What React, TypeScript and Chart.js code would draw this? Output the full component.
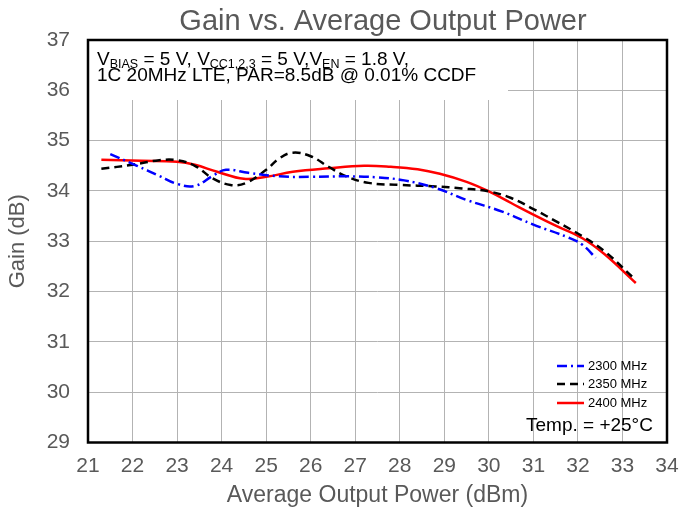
import React, { useEffect, useRef } from "react";
import { Chart, registerables } from "chart.js";

Chart.register(...registerables);

const FONT = "'Liberation Sans', Arial, sans-serif";

const TITLE = "Gain vs. Average Output Power";
const X_TITLE = "Average Output Power (dBm)";
const Y_TITLE = "Gain (dB)";
const X_MIN = 21;
const X_MAX = 34;
const Y_MIN = 29;
const Y_MAX = 37;

const SERIES_LABELS = ["2300 MHz", "2350 MHz", "2400 MHz"];
const SERIES_COLORS = ["#0000ff", "#000000", "#ff0000"];

const x2300 = [21.5, 22.1, 22.6, 23.0, 23.4, 23.8, 24.1, 24.6, 25.3, 26.0, 26.8, 27.5, 28.1, 28.8, 29.5, 30.3, 31.0, 31.8, 32.1, 32.4];
const y2300 = [34.73, 34.5, 34.3, 34.14, 34.1, 34.3, 34.42, 34.36, 34.29, 34.28, 34.29, 34.27, 34.21, 34.06, 33.82, 33.59, 33.33, 33.07, 32.93, 32.67];

const x2350 = [21.3, 22.0, 22.6, 23.0, 23.4, 23.8, 24.2, 24.55, 25.0, 25.3, 25.6, 26.0, 26.4, 26.8, 27.3, 28.0, 28.8, 29.4, 30.0, 30.5, 31.0, 31.5, 32.1, 32.6, 33.25];
const y2350 = [34.44, 34.52, 34.61, 34.61, 34.5, 34.25, 34.12, 34.16, 34.42, 34.65, 34.76, 34.69, 34.48, 34.29, 34.16, 34.12, 34.09, 34.05, 33.99, 33.86, 33.64, 33.4, 33.1, 32.8, 32.27];

const x2400 = [21.3, 22.2, 23.0, 23.4, 23.9, 24.5, 25.0, 25.6, 26.4, 27.2, 27.8, 28.4, 28.9, 29.5, 30.0, 30.5, 31.0, 31.5, 32.1, 32.6, 33.3];
const y2400 = [34.62, 34.6, 34.58, 34.52, 34.38, 34.24, 34.28, 34.38, 34.45, 34.5, 34.48, 34.43, 34.34, 34.18, 33.99, 33.76, 33.53, 33.31, 33.06, 32.74, 32.17];

const NOTE_LINE1: [string, boolean][] = [
  ["V", false], ["BIAS", true], [" = 5 V, V", false], ["CC1,2,3", true],
  [" = 5 V,V", false], ["EN", true], [" = 1.8 V,", false],
];
const NOTE_LINE2 = "1C 20MHz LTE, PAR=8.5dB @ 0.01% CCDF";
const TEMP_NOTE = "Temp. = +25°C";

const toPts = (xs: number[], ys: number[]) => xs.map((x, i) => ({ x, y: ys[i] }));

const decorPlugin = {
  id: "decor",
  beforeDatasetsDraw(chart: any) {
    const { ctx, chartArea } = chart;
    ctx.save();
    ctx.fillStyle = "#ffffff";
    ctx.fillRect(chartArea.left, chartArea.top, 508 - chartArea.left, 100 - chartArea.top);
    ctx.restore();
  },
  afterDraw(chart: any) {
    const { ctx, chartArea } = chart;
    ctx.save();
    // title
    ctx.fillStyle = "#595959";
    ctx.font = `29px ${FONT}`;
    ctx.textAlign = "center";
    ctx.textBaseline = "alphabetic";
    ctx.fillText(TITLE, 383, 30);
    // border
    ctx.strokeStyle = "#000000";
    ctx.lineWidth = 2.5;
    ctx.strokeRect(chartArea.left, chartArea.top, chartArea.right - chartArea.left, chartArea.bottom - chartArea.top);
    // note
    ctx.fillStyle = "#000000";
    ctx.textAlign = "left";
    let x = 97;
    for (const [t, sub] of NOTE_LINE1) {
      ctx.font = sub ? `12.5px ${FONT}` : `19px ${FONT}`;
      ctx.fillText(t, x, sub ? 67.5 : 65);
      x += ctx.measureText(t).width;
    }
    ctx.font = `19px ${FONT}`;
    ctx.fillText(NOTE_LINE2, 97, 81);
    // legend
    const rows = [366, 384, 403];
    chart.data.datasets.forEach((ds: any, i: number) => {
      ctx.save();
      ctx.strokeStyle = ds.borderColor;
      ctx.lineWidth = ds.borderWidth;
      ctx.setLineDash(ds.borderDash || []);
      ctx.beginPath();
      ctx.moveTo(557, rows[i]);
      ctx.lineTo(584, rows[i]);
      ctx.stroke();
      ctx.restore();
      ctx.fillStyle = "#000000";
      ctx.font = `13px ${FONT}`;
      ctx.textBaseline = "middle";
      ctx.fillText(ds.label, 588, rows[i]);
    });
    ctx.font = `19px ${FONT}`;
    ctx.textBaseline = "middle";
    ctx.fillText(TEMP_NOTE, 526, 426);
    ctx.restore();
  },
};

export default function App() {
  const ref = useRef<HTMLCanvasElement>(null);
  useEffect(() => {
    document.body.style.margin = "0";
    const dashes = [[10, 4, 2, 4], [8, 5], []];
    const xs = [x2300, x2350, x2400];
    const ys = [y2300, y2350, y2400];
    const chart = new Chart(ref.current!, {
      type: "line",
      data: {
        datasets: SERIES_LABELS.map((label, i) => ({
          label,
          data: toPts(xs[i], ys[i]),
          borderColor: SERIES_COLORS[i],
          backgroundColor: SERIES_COLORS[i],
          borderWidth: 2.5,
          borderDash: dashes[i],
          pointRadius: 0,
          tension: 0.4,
          fill: false,
        })),
      },
      options: {
        animation: false,
        responsive: false,
        layout: { padding: { left: 0, right: 13, top: 40, bottom: 0 } },
        plugins: { legend: { display: false }, title: { display: false }, tooltip: { enabled: false } },
        scales: {
          x: {
            type: "linear",
            min: X_MIN,
            max: X_MAX,
            afterFit: (s: any) => { s.height = 69.5; s.paddingLeft = 0; s.paddingRight = 0; },
            ticks: { stepSize: 1, color: "#595959", font: { family: FONT, size: 21 }, padding: 11, maxRotation: 0 },
            grid: { color: "#b3b3b3", lineWidth: 1, drawTicks: false },
            border: { display: false },
            title: { display: true, text: X_TITLE, color: "#595959", font: { family: FONT, size: 23 }, padding: { top: 0, bottom: 3 } },
          },
          y: {
            type: "linear",
            min: Y_MIN,
            max: Y_MAX,
            afterFit: (s: any) => { s.width = 88; s.paddingTop = 0; s.paddingBottom = 0; },
            ticks: { stepSize: 1, color: "#595959", font: { family: FONT, size: 21 }, padding: 18 },
            grid: { color: "#b3b3b3", lineWidth: 1, drawTicks: false },
            border: { display: false },
            title: { display: true, text: Y_TITLE, color: "#595959", font: { family: FONT, size: 22 }, padding: { top: 5, bottom: 0 } },
          },
        },
      },
      plugins: [decorPlugin],
    });
    return () => chart.destroy();
  }, []);
  return (
    <div style={{ width: 680, height: 512 }}>
      <canvas ref={ref} width={680} height={512} />
    </div>
  );
}
